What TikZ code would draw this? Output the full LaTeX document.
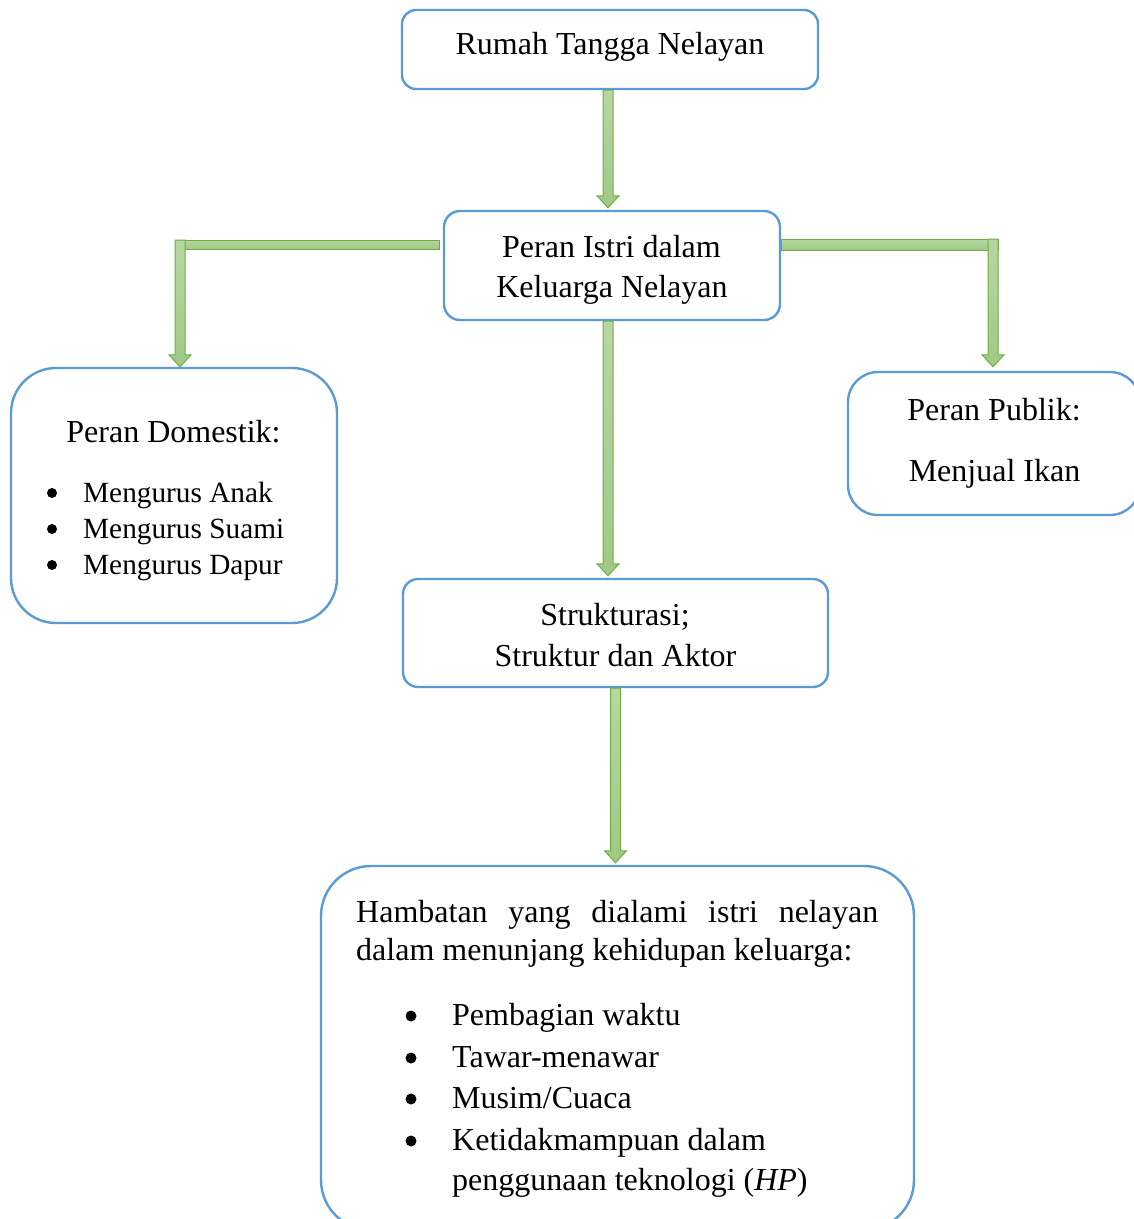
\documentclass[tikz,border=0pt]{standalone}
\usepackage{fontspec}
\setmainfont{Liberation Serif}
\usetikzlibrary{calc}
\definecolor{boxblue}{HTML}{5B9BD5}
\definecolor{arrowedge}{HTML}{70AD47}
\definecolor{arrowtop}{HTML}{B7D7A2}
\definecolor{arrowbot}{HTML}{A0C985}
\newcommand\vblock[2]{%
  \path[blockarrow] ($(#1)+(-5,0)$) -- ($(#2)+(-5,-12)$) -- ($(#2)+(-11,-12)$) -- (#2)
    -- ($(#2)+(11,-12)$) -- ($(#2)+(5,-12)$) -- ($(#1)+(5,0)$) -- cycle;}
\begin{document}
\begin{tikzpicture}[x=1pt,y=-1pt,
  box/.style={draw=boxblue,line width=2.4pt,fill=white,inner sep=0pt},
  txt/.style={font=\fontsize{32}{36}\selectfont,inner sep=0pt,anchor=base},
  ltxt/.style={txt,anchor=base west},
  stxt/.style={font=\fontsize{29.3}{34}\selectfont,inner sep=0pt,anchor=base west},
  dot/.style={circle,fill=black,inner sep=0pt,minimum size=#1},
  blockarrow/.style={draw=arrowedge,line width=1pt,top color=arrowtop,bottom color=arrowbot,line join=miter}]
\useasboundingbox (0,0) rectangle (1134,1219);
% boxes
\node[box,rounded corners=14pt,minimum width=416pt,minimum height=79pt] (rt) at (610,49.5) {};
\node[box,rounded corners=16pt,minimum width=336pt,minimum height=109pt] (pi) at (612,265.5) {};
\node[box,rounded corners=45pt,minimum width=326pt,minimum height=255pt] (pd) at (174,495.5) {};
\node[box,rounded corners=30pt,minimum width=292pt,minimum height=143pt] (pp) at (994,443.5) {};
\node[box,rounded corners=15pt,minimum width=425pt,minimum height=108pt] (st) at (615.5,633) {};
\node[box,rounded corners=50pt,minimum width=593pt,minimum height=364pt] (hb) at (617.5,1048) {};
% texts
\node[txt] (t1) at (610,54) {Rumah Tangga Nelayan};
\node[txt] (t2a) at (611.5,257) {Peran Istri dalam};
\node[txt] (t2b) at (612,297) {Keluarga Nelayan};
\node[txt] (t3) at (173.5,442) {Peran Domestik:};
\node[dot=10pt] (b31) at (52,493) {};
\node[dot=10pt] (b32) at (52,529) {};
\node[dot=10pt] (b33) at (52,565) {};
\node[stxt] (t31) at (83,502) {Mengurus Anak};
\node[stxt] (t32) at (83,538) {Mengurus Suami};
\node[stxt] (t33) at (83,574) {Mengurus Dapur};
\node[txt] (t4a) at (994,420) {Peran Publik:};
\node[txt] (t4b) at (994.5,481) {Menjual Ikan};
\node[txt] (t5a) at (615,625) {Strukturasi;};
\node[txt] (t5b) at (615.5,666) {Struktur dan Aktor};
\node[ltxt] (t6a) at (356,922) {\hbox to 522pt{Hambatan\hfill yang\hfill dialami\hfill istri\hfill nelayan}};
\node[ltxt] (t6b) at (356,960) {dalam menunjang kehidupan keluarga:};
\node[dot=11pt] (b61) at (411,1016) {};
\node[dot=11pt] (b62) at (411,1058) {};
\node[dot=11pt] (b63) at (411,1099) {};
\node[dot=11pt] (b64) at (411,1141) {};
\node[ltxt] (t61) at (452,1025) {Pembagian waktu};
\node[ltxt] (t62) at (452,1067) {Tawar-menawar};
\node[ltxt] (t63) at (452,1108) {Musim/Cuaca};
\node[ltxt] (t64) at (452,1150) {Ketidakmampuan dalam};
\node[ltxt] (t65) at (452,1190) {penggunaan teknologi (\textit{HP})};
% straight arrows
\coordinate (a1s) at ($(rt.south)+(-2,0)$);
\coordinate (a1e) at ($(a1s |- pi.north)+(0,-2)$);
\vblock{a1s}{a1e}
\coordinate (a2s) at ($(pi.south)+(-4,0)$);
\coordinate (a2e) at ($(a2s |- st.north)+(0,-2)$);
\vblock{a2s}{a2e}
\coordinate (a3s) at (st.south);
\coordinate (a3e) at ($(a3s |- hb.north)+(0,-2)$);
\vblock{a3s}{a3e}
% left elbow arrow
\coordinate (lb) at ($(pi.west)+(-3,-21)$);
\coordinate (lt) at ($(pd.north)+(6,0)$);
\coordinate (ls) at ($(lt|-lb)+(0,-4.5)$);
\path[blockarrow] ($(lb)+(0,-4.5)$) rectangle ($(lt|-lb)+(-5,4.5)$);
\vblock{ls}{lt}
% right elbow arrow
\coordinate (rb) at ($(pi.east)+(0,-21)$);
\coordinate (rtip) at ($(pp.north)+(-1,-4)$);
\coordinate (rs) at ($(rtip|-rb)+(0,-5.5)$);
\path[blockarrow] ($(rb)+(0,-5.5)$) rectangle ($(rtip|-rb)+(5,5.5)$);
\vblock{rs}{rtip}
\end{tikzpicture}
\end{document}
